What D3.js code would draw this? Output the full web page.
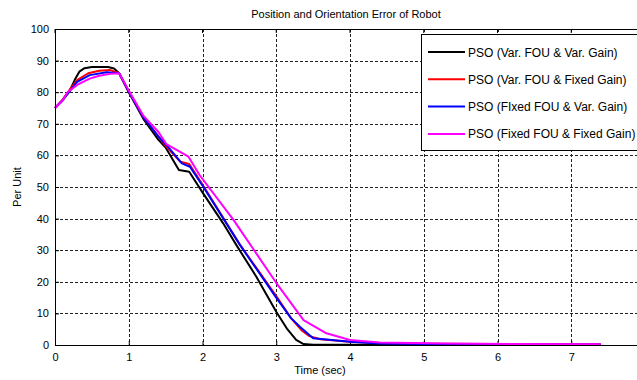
<!DOCTYPE html>
<html>
<head>
<meta charset="utf-8">
<script src="https://cdn.jsdelivr.net/npm/d3@7"></script>
<style>
  body { margin: 0; background: #fff; }
  svg { display: block; font-family: "Liberation Sans", Arial, sans-serif; }
</style>
</head>
<body>
<div id="chart"></div>
<script>
// series: [time (sec), per unit]
var varFouVarGain = [[0,75],[0.1,77.5],[0.2,80.5],[0.27,84],[0.33,86.5],[0.4,87.6],[0.5,88],[0.72,88],[0.8,87.5],[0.87,86],[1.0,80],[1.2,71.5],[1.4,65],[1.5,62.5],[1.68,55.4],[1.82,54.8],[2.0,48.3],[2.28,38.5],[2.46,31.6],[2.73,21.6],[3.0,10.5],[3.15,5],[3.27,1.6],[3.37,0.3],[3.5,0.1],[4,0.05],[7.4,0]];
var varFouFixedGain = [[0,75],[0.1,77.5],[0.2,80.8],[0.3,83.8],[0.45,86],[0.6,86.8],[0.75,87],[0.87,86],[1.0,80.2],[1.2,72],[1.4,66],[1.5,63],[1.7,58],[1.82,57.3],[2.0,50.8],[2.5,32],[3.0,15.5],[3.2,8.5],[3.35,4.5],[3.45,2.8],[3.6,1.8],[4.0,1.0],[4.4,0.6],[5,0.4],[6,0.3],[7.4,0.2]];
var fixedFouVarGain = [[0,75],[0.1,77.3],[0.2,80.3],[0.3,83.3],[0.47,85.4],[0.7,86.3],[0.87,86],[1.0,80.2],[1.2,72],[1.4,66],[1.51,63.3],[1.72,57.5],[1.83,56.4],[2.01,50.1],[2.51,31.6],[2.99,15.3],[3.2,8.5],[3.32,5.8],[3.5,2.1],[4.0,1.0],[4.4,0.5],[5,0.35],[6,0.25],[7.4,0.15]];
var fixedFouFixedGain = [[0,75],[0.1,77.3],[0.17,80],[0.3,82.3],[0.47,84.3],[0.6,85.2],[0.75,85.8],[0.87,86],[1.0,80.5],[1.2,72.5],[1.4,67.5],[1.51,63.6],[1.81,59.6],[1.96,53.8],[2.42,39.6],[2.99,20],[3.37,7.9],[3.68,3.7],[4.0,1.6],[4.4,0.8],[5.3,0.5],[6.2,0.3],[7.4,0.2]];

var seriesNames = ["PSO (Var. FOU & Var. Gain)", "PSO (Var. FOU & Fixed Gain)", "PSO (FIxed FOU & Var. Gain)", "PSO (Fixed FOU & Fixed Gain)"];
var seriesColors = ["#000000", "#ff0000", "#0000ff", "#ff00ff"];
var seriesData = [varFouVarGain, varFouFixedGain, fixedFouVarGain, fixedFouFixedGain];

var xTicks = [0, 1, 2, 3, 4, 5, 6, 7];
var yTicks = [0, 10, 20, 30, 40, 50, 60, 70, 80, 90, 100];

var width = 637, height = 380;
var plotLeft = 55, plotTop = 29, plotRight = 645, plotBottom = 345;

var svg = d3.select("#chart").append("svg")
  .attr("width", width)
  .attr("height", height);

var x = d3.scaleLinear().domain([0, 8]).range([plotLeft, plotRight]);
var y = d3.scaleLinear().domain([0, 100]).range([plotBottom, plotTop]);

// grid
svg.append("g").selectAll("line")
  .data(xTicks.slice(1))
  .enter().append("line")
  .attr("x1", function(d) { return Math.round(x(d)) + 0.5; })
  .attr("x2", function(d) { return Math.round(x(d)) + 0.5; })
  .attr("y1", plotTop).attr("y2", plotBottom)
  .attr("stroke", "#222").attr("stroke-width", 1)
  .attr("stroke-dasharray", "3,2");

svg.append("g").selectAll("line")
  .data(yTicks.slice(1, -1))
  .enter().append("line")
  .attr("x1", plotLeft).attr("x2", plotRight)
  .attr("y1", function(d) { return Math.round(y(d)) + 0.5; })
  .attr("y2", function(d) { return Math.round(y(d)) + 0.5; })
  .attr("stroke", "#222").attr("stroke-width", 1)
  .attr("stroke-dasharray", "3,2");

// axes, ticks inside like matlab
var xAxis = d3.axisBottom(x).tickValues(xTicks).tickSize(-4).tickPadding(8);
var yAxis = d3.axisLeft(y).tickValues(yTicks).tickSize(-4).tickPadding(6);

svg.append("g")
  .attr("transform", "translate(0," + plotBottom + ")")
  .call(xAxis)
  .call(function(g) { g.select(".domain").remove(); })
  .selectAll("text").attr("font-size", "11px").attr("fill", "#000")
  .attr("font-family", "Liberation Sans, Arial, sans-serif");

svg.append("g")
  .attr("transform", "translate(" + plotLeft + ",0)")
  .call(yAxis)
  .call(function(g) { g.select(".domain").remove(); })
  .selectAll("text").attr("font-size", "11px").attr("fill", "#000")
  .attr("font-family", "Liberation Sans, Arial, sans-serif");

// top tick marks
svg.append("g").selectAll("line")
  .data(xTicks)
  .enter().append("line")
  .attr("x1", x).attr("x2", x)
  .attr("y1", plotTop).attr("y2", plotTop + 4)
  .attr("stroke", "#000");

// data lines
var line = d3.line()
  .x(function(d) { return x(d[0]); })
  .y(function(d) { return y(d[1]); });

svg.append("g").selectAll("path")
  .data(seriesData)
  .enter().append("path")
  .attr("d", line)
  .attr("fill", "none")
  .attr("stroke", function(d, i) { return seriesColors[i]; })
  .attr("stroke-width", 2)
  .attr("stroke-linejoin", "round");

// box
svg.append("rect")
  .attr("x", plotLeft + 0.5).attr("y", plotTop + 0.5)
  .attr("width", plotRight - plotLeft).attr("height", plotBottom - plotTop)
  .attr("fill", "none").attr("stroke", "#000").attr("stroke-width", 1);

// legend
var legend = svg.append("g").attr("transform", "translate(421,34)");
legend.append("rect")
  .attr("x", 0.5).attr("y", 0.5)
  .attr("width", 240).attr("height", 116)
  .attr("fill", "#fff").attr("stroke", "#000");

var rows = legend.selectAll("g.row")
  .data(seriesNames)
  .enter().append("g")
  .attr("class", "row")
  .attr("transform", function(d, i) { return "translate(0," + (18 + i * 27.3) + ")"; });

rows.append("line")
  .attr("x1", 7).attr("x2", 44)
  .attr("stroke", function(d, i) { return seriesColors[i]; })
  .attr("stroke-width", 2);

rows.append("text")
  .attr("x", 47).attr("y", 4.5)
  .attr("font-size", "12px")
  .text(function(d) { return d; });

// title and labels
svg.append("text")
  .attr("x", 346).attr("y", 18)
  .attr("text-anchor", "middle")
  .attr("font-size", "11px")
  .text("Position and Orientation Error of Robot");

svg.append("text")
  .attr("x", 320).attr("y", 374)
  .attr("text-anchor", "middle")
  .attr("font-size", "11px")
  .text("Time (sec)");

svg.append("text")
  .attr("transform", "translate(21,187) rotate(-90)")
  .attr("text-anchor", "middle")
  .attr("font-size", "11px")
  .text("Per Unit");
</script>
</body>
</html>
